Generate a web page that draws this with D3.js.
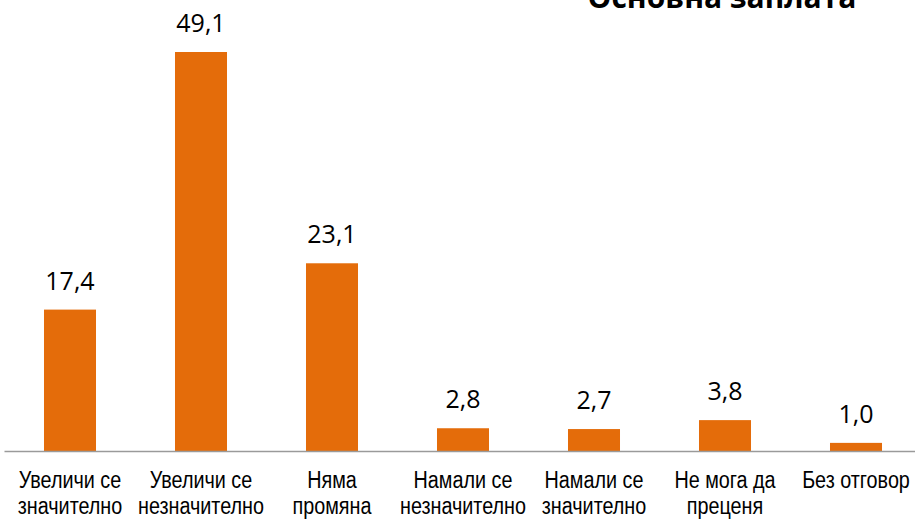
<!DOCTYPE html>
<html>
<head>
<meta charset="utf-8">
<script src="https://cdn.jsdelivr.net/npm/d3@7"></script>
<style>
  body { margin: 0; background: #fff; }
  svg { display: block; }
</style>
</head>
<body>
<div id="chart"></div>
<script>
const categories = [
  ["Увеличи се", "значително"],
  ["Увеличи се", "незначително"],
  ["Няма", "промяна"],
  ["Намали се", "незначително"],
  ["Намали се", "значително"],
  ["Не мога да", "преценя"],
  ["Без отговор"]
];
const values = [17.4, 49.1, 23.1, 2.8, 2.7, 3.8, 1.0];
const title = "Основна заплата";

const width = 915, height = 519;
const baseY = 451;

const svg = d3.select("#chart").append("svg")
  .attr("width", width)
  .attr("height", height);

const x = d3.scaleBand()
  .domain(d3.range(values.length))
  .range([4.5, 921.5])
  .paddingInner(0.603)
  .paddingOuter(0.3015);

const y = d3.scaleLinear()
  .domain([0, 49.1])
  .range([baseY, 52]);

svg.append("g").selectAll("rect")
  .data(values)
  .join("rect")
  .attr("x", (d, i) => x(i))
  .attr("y", d => y(d))
  .attr("width", x.bandwidth())
  .attr("height", d => baseY - y(d))
  .attr("fill", "#e46c0a");

svg.append("line")
  .attr("x1", 4.5).attr("x2", width)
  .attr("y1", baseY + 0.5).attr("y2", baseY + 0.5)
  .attr("stroke", "#9a9a9a")
  .attr("stroke-width", 1.5);

svg.append("g").selectAll("text")
  .data(values)
  .join("text")
  .attr("x", (d, i) => x(i) + x.bandwidth() / 2)
  .attr("y", d => y(d) - 20)
  .attr("text-anchor", "middle")
  .attr("font-family", "Open Sans, sans-serif")
  .attr("font-size", 25)
  .attr("fill", "#000")
  .text(d => d.toFixed(1).replace(".", ","));

// narrow sans labels, squeezed horizontally
const cat = svg.append("g").selectAll("g")
  .data(categories)
  .join("g")
  .attr("transform", (d, i) => `translate(${x(i) + x.bandwidth() / 2},488) scale(0.86,1)`)
  .append("text")
  .attr("text-anchor", "middle")
  .attr("font-family", "Liberation Sans, Arial, sans-serif")
  .attr("font-size", 23)
  .attr("fill", "#000");

cat.selectAll("tspan")
  .data(d => d)
  .join("tspan")
  .attr("x", 0)
  .attr("dy", (d, i) => i === 0 ? 0 : 26.5)
  .text(d => d);

svg.append("text")
  .attr("x", 722)
  .attr("y", 7.5)
  .attr("text-anchor", "middle")
  .attr("font-family", "Open Sans, sans-serif")
  .attr("font-weight", "bold")
  .attr("font-size", 30)
  .attr("fill", "#000")
  .text(title);
</script>
</body>
</html>
